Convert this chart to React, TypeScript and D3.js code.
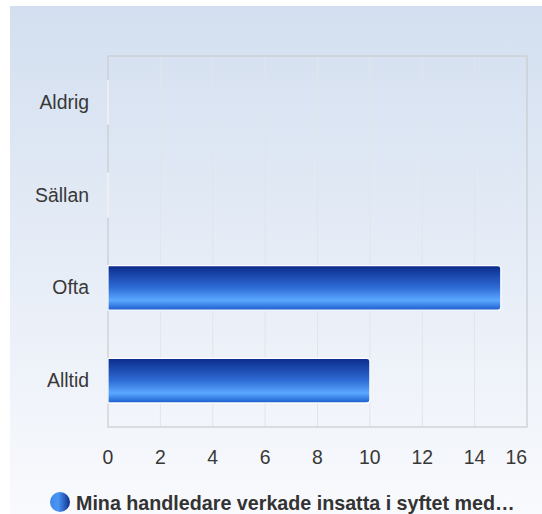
import React from "react";
import * as d3 from "d3";

const categories = ["Aldrig", "Sällan", "Ofta", "Alltid"];
const values = [0, 0, 15, 10];
const xTicks = [0, 2, 4, 6, 8, 10, 12, 14, 16];
const seriesName = "Mina handledare verkade insatta i syftet med…";

const W = 542;
const H = 514;
const left = 108;
const right = 527;
const top = 56;
const bottom = 427;
const font = "Arial, 'Liberation Sans', sans-serif";

export default function App() {
  const x = d3.scaleLinear().domain([0, 16]).range([left, right]);
  const y = d3
    .scaleBand<string>()
    .domain(categories)
    .range([top, bottom])
    .paddingInner(0.52)
    .paddingOuter(0.26);

  return (
    <svg
      width={W}
      height={H}
      style={{ position: "absolute", left: 0, top: 0 }}
      fontFamily={font}
    >
      <defs>
        <linearGradient id="bg" x1="0" y1="0" x2="0" y2="1">
          <stop offset="0" stopColor="#d3dff0" />
          <stop offset="1" stopColor="#f9fafd" />
        </linearGradient>
        <linearGradient id="bar" x1="0" y1="0" x2="0" y2="1">
          <stop offset="0" stopColor="#0a2b8a" />
          <stop offset="0.5" stopColor="#2f6cd6" />
          <stop offset="0.78" stopColor="#5aa8ff" />
          <stop offset="1" stopColor="#1b5ccc" />
        </linearGradient>
        <linearGradient id="leg" x1="0" y1="0" x2="1" y2="0">
          <stop offset="0" stopColor="#3d86ea" />
          <stop offset="0.4" stopColor="#4a97f5" />
          <stop offset="1" stopColor="#0d2f90" />
        </linearGradient>
      </defs>
      <rect x={10} y={6} width={W - 10} height={H - 6} fill="url(#bg)" />

      {xTicks.slice(1, -1).map((t) => (
        <line
          key={"g" + t}
          x1={x(t)}
          x2={x(t)}
          y1={top}
          y2={bottom}
          stroke="#e2e4e8"
          strokeWidth={1}
        />
      ))}
      <rect
        x={left}
        y={top}
        width={right - left}
        height={bottom - top}
        fill="none"
        stroke="#cacccf"
        strokeWidth={1.2}
      />

      {categories.map((c, i) => {
        const by = y(c)!;
        const bw = x(values[i]) - x(0);
        const bh = y.bandwidth();
        const r = Math.min(3, bw / 2);
        const path =
          bw > 0
            ? `M${x(0)},${by}H${x(0) + bw - r}Q${x(0) + bw},${by} ${x(0) + bw},${by + r}V${by + bh - r}Q${x(0) + bw},${by + bh} ${x(0) + bw - r},${by + bh}H${x(0)}Z`
            : `M${x(0)},${by}V${by + bh}`;
        return (
          <g key={c}>
            <path
              d={path}
              fill={bw > 0 ? "url(#bar)" : "none"}
              stroke="#ffffff"
              strokeWidth={1.2}
            />
            <text
              x={89}
              y={by + bh / 2 + 6.5}
              textAnchor="end"
              fontSize={19.4}
              fill="#383838"
            >
              {c}
            </text>
          </g>
        );
      })}

      {xTicks.map((t, i) => (
        <text
          key={"t" + t}
          x={x(t)}
          y={464}
          textAnchor={i === xTicks.length - 1 ? "end" : "middle"}
          fontSize={19.4}
          fill="#383838"
        >
          {t}
        </text>
      ))}

      <circle cx={60} cy={502} r={10} fill="url(#leg)" />
      <text x={76} y={510} fontSize={19.7} fontWeight="bold" fill="#333">
        {seriesName}
      </text>
    </svg>
  );
}
